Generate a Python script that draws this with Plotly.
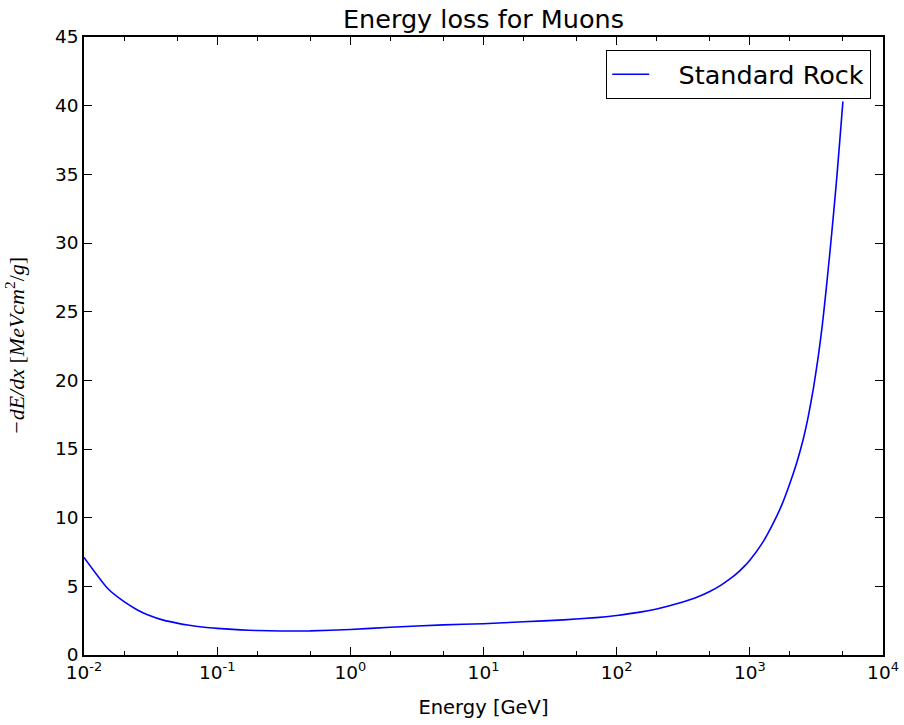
import plotly.graph_objects as go

# Energy [GeV]
energy = [0.01, 0.015, 0.02, 0.025, 0.03, 0.04, 0.05, 0.06, 0.08, 0.1, 0.15, 0.2, 0.3, 0.5,
          1, 2, 5, 10, 20, 40, 70, 100, 150, 200, 300, 400, 500, 600, 700, 800, 900,
          1000, 1250, 1500, 1750, 2000, 2250, 2500, 2750, 3000, 3250, 3500, 3750,
          4000, 4250, 4500, 4750, 5000]
# -dE/dx [MeV cm^2/g] for standard rock
dedx = [7.1, 4.86, 3.88, 3.3, 2.93, 2.52, 2.32, 2.18, 2.02, 1.94, 1.83, 1.78, 1.75, 1.76,
        1.86, 2.02, 2.19, 2.28, 2.42, 2.56, 2.72, 2.88, 3.12, 3.35, 3.8, 4.2, 4.62, 5.05, 5.5, 5.95, 6.42,
        6.9, 8.2, 9.6, 11.0, 12.5, 14.0, 15.6, 17.4, 19.4, 21.6, 24.0, 26.7,
        29.4, 32.1, 34.8, 37.6, 40.3]

x_tickvals = [0.01, 0.1, 1, 10, 100, 1000, 10000]
x_ticktext = ["10<sup>-2</sup>", "10<sup>-1</sup>", "10<sup>0</sup>", "10<sup>1</sup>",
              "10<sup>2</sup>", "10<sup>3</sup>", "10<sup>4</sup>"]
y_tickvals = [0, 5, 10, 15, 20, 25, 30, 35, 40, 45]

fig = go.Figure()
fig.add_trace(go.Scatter(x=energy, y=dedx, mode="lines",
                         name="\u00a0\u00a0\u00a0Standard Rock",
                         line=dict(color="#0000ff", width=1.6, shape="spline", smoothing=0.5)))

font_main = "DejaVu Sans"
fig.update_layout(
    width=904, height=725,
    margin=dict(l=84, r=21, t=37, b=70, autoexpand=False),
    paper_bgcolor="white", plot_bgcolor="white",
    font=dict(family=font_main, size=18.5, color="black"),
    title=dict(text="Energy loss for Muons", x=(84 + 883) / 2 / 904, xanchor="center",
               y=1 - 19 / 725, yanchor="middle", font=dict(size=25.5, family=font_main)),
    showlegend=True,
    legend=dict(x=0.985, y=0.979, xanchor="right", yanchor="top",
                bordercolor="black", borderwidth=1.2, bgcolor="white",
                itemwidth=37,
                font=dict(size=25.5, family=font_main)),
)
fig.update_xaxes(
    type="log", range=[-2, 4], tickvals=x_tickvals, ticktext=x_ticktext,
    showline=True, linecolor="black", linewidth=1.5, mirror="ticks",
    ticks="inside", ticklen=8, tickwidth=1, tickcolor="black",
    showgrid=False, zeroline=False, automargin=False,
    minor=dict(ticks="inside", ticklen=4, tickwidth=1, tickcolor="black", showgrid=False),
    title=dict(text="Energy [GeV]", font=dict(size=19.5), standoff=18),
    tickfont=dict(size=18.5),
)
fig.update_yaxes(
    range=[0, 45], tickvals=y_tickvals,
    showline=True, linecolor="black", linewidth=1.5, mirror="ticks",
    ticks="inside", ticklen=8, tickwidth=1, tickcolor="black",
    showgrid=False, zeroline=False, automargin=False,
    title=dict(text="<i>−dE/dx</i> [<i>MeVcm</i><sup>2</sup>/<i>g</i>]",
               font=dict(size=22, family="Liberation Serif"), standoff=24),
    tickfont=dict(size=18.5),
)

fig.write_html("out.html")
